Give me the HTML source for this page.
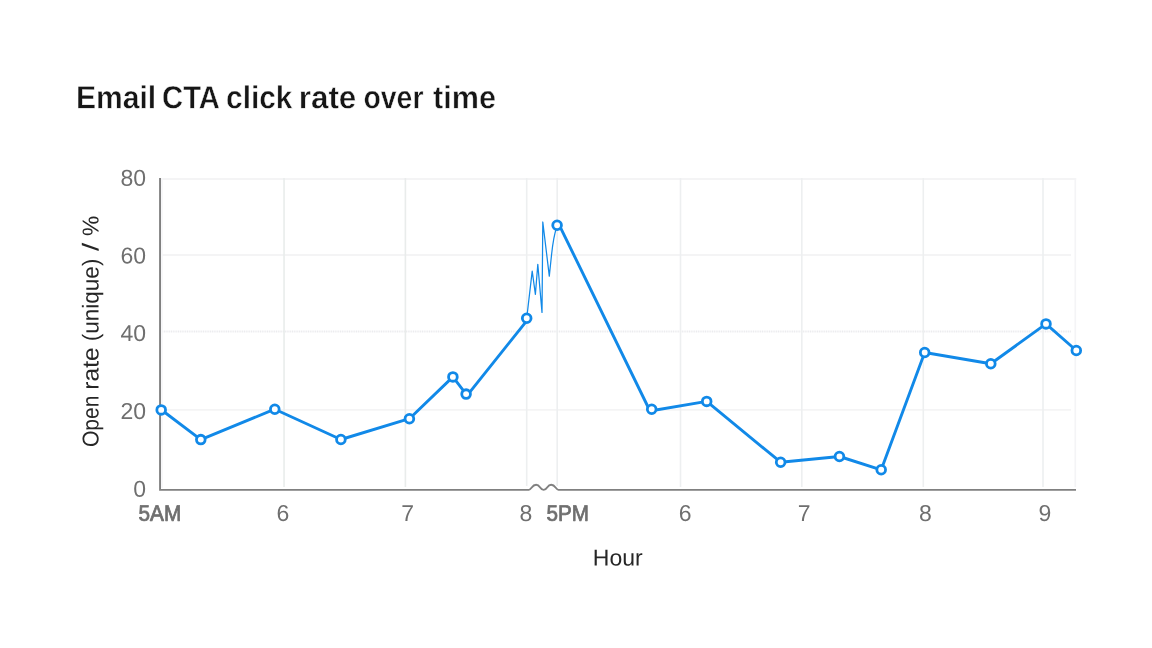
<!DOCTYPE html>
<html><head><meta charset="utf-8">
<style>
html,body{margin:0;padding:0;background:#fff;}
body{width:1152px;height:648px;overflow:hidden;font-family:"Liberation Sans",sans-serif;}
svg{display:block;position:absolute;left:0;top:0;will-change:transform;}
text{font-family:"Liberation Sans",sans-serif;}
.tick{font-size:23px;fill:#6f6f6f;}
.tickb{font-size:22.3px;fill:#6f6f6f;stroke:#6f6f6f;stroke-width:0.8;stroke-linejoin:round;}
.lab{font-size:23px;fill:#262626;}
.gv{stroke:#edeff0;stroke-width:1.6;fill:none;}
.gh{stroke:#f4f4f5;stroke-width:1.8;fill:none;}
.axis{stroke:#808080;stroke-width:1.9;fill:none;}
.mk{fill:#fff;stroke:#1189e8;stroke-width:2.8;}
</style></head>
<body>
<svg width="1152" height="648" viewBox="0 0 1152 648">
<rect width="1152" height="648" fill="#fff"/>
<g id="title">
<text transform="translate(75.88 108.2) rotate(0.03) scale(0.9431 1)" font-size="31.9" font-weight="bold" fill="#161616" stroke="#fff" stroke-width="0.45">Email</text>
<text transform="translate(162.10 108.2) rotate(0.03) scale(0.9150 1)" font-size="31.9" font-weight="bold" fill="#161616" stroke="#fff" stroke-width="0.45">CTA</text>
<text transform="translate(226.08 108.2) rotate(0.03) scale(0.9349 1)" font-size="31.9" font-weight="bold" fill="#161616" stroke="#fff" stroke-width="0.45">click</text>
<text transform="translate(298.73 108.2) rotate(0.03) scale(0.9838 1)" font-size="31.9" font-weight="bold" fill="#161616" stroke="#fff" stroke-width="0.45">rate</text>
<text transform="translate(363.48 108.2) rotate(0.03) scale(0.8899 1)" font-size="31.9" font-weight="bold" fill="#161616" stroke="#fff" stroke-width="0.45">over</text>
<text transform="translate(433.05 108.2) rotate(0.03) scale(0.9600 1)" font-size="31.9" font-weight="bold" fill="#161616" stroke="#fff" stroke-width="0.45">time</text>
</g>

<!-- grid -->
<g class="gh">
<path d="M161 179H1076.2"/>
<path d="M162 255H1071"/>
<path d="M162 331.5H1071" stroke="#ebebee" stroke-dasharray="1.1 0.68"/>
<path d="M162 409.9H1071"/>
</g>
<g class="gv">
<path d="M162 178V488" stroke="#f6f6f8"/>
<path d="M284.05 178V487" stroke="#e9eceb"/>
<path d="M405.4 178V487" stroke="#e9eceb"/>
<path d="M526.7 178V486"/>
<path d="M557.2 178V486"/>
<path d="M680.5 178V487"/>
<path d="M801.8 178V487"/>
<path d="M923.3 178V487"/>
<path d="M1043 178V487"/>
<path d="M1075.3 178V487" stroke="#f4f4f6"/>
</g>

<!-- axes -->
<path class="axis" id="xaxis" d="M160.05 178V489.85H528.9 C531.4 489.85 531.9 484.7 536.1 484.7 C540.4 484.7 539.5 489.9 543.65 489.9 C547.8 489.9 546.9 484.7 551.2 484.7 C555.4 484.7 555.9 489.85 558.4 489.85 H1076"/>

<!-- y ticks -->
<g class="tick" text-anchor="end">
<text id="y80" transform="translate(146 185.7) rotate(0.03)">80</text>
<text id="y60" transform="translate(146 263.6) rotate(0.03)">60</text>
<text id="y40" transform="translate(146 341) rotate(0.03)">40</text>
<text id="y20" transform="translate(146 418.9) rotate(0.03)">20</text>
<text id="y0" transform="translate(146 496.7) rotate(0.03)">0</text>
</g>

<!-- x ticks -->
<g class="tick" text-anchor="middle">
<text id="x6a" transform="translate(283 521) rotate(0.03)">6</text>
<text id="x7a" transform="translate(407.7 521) rotate(0.03)">7</text>
<text id="x8a" transform="translate(525.8 521) rotate(0.03)">8</text>
<text id="x6b" transform="translate(685.05 521) rotate(0.03)">6</text>
<text id="x7b" transform="translate(804.15 521) rotate(0.03)">7</text>
<text id="x8b" transform="translate(925.5 521) rotate(0.03)">8</text>
<text id="x9b" transform="translate(1045 521) rotate(0.03)">9</text>
</g>
<text id="x5am" class="tickb" transform="translate(138.6 520.7) rotate(0.03) scale(0.93 1)">5AM</text>
<text id="x5pm" class="tickb" transform="translate(546.6 520.7) rotate(0.03) scale(0.925 1)">5PM</text>

<!-- labels -->
<text id="xlab" class="lab" transform="translate(617.7 565.4) rotate(0.03)" text-anchor="middle">Hour</text>
<g id="ylab">
<text class="lab" transform="translate(98.5 447.10) rotate(-90.03) scale(0.9167 1)">Open</text>
<text class="lab" transform="translate(98.5 389.65) rotate(-90.03) scale(1.0690 1)">rate</text>
<text class="lab" transform="translate(98.5 341.35) rotate(-90.03) scale(0.9816 1)">(unique)</text>
<text class="lab" transform="translate(98.5 251.10) rotate(-90.03) scale(1.2729 1)">/</text>
<text class="lab" transform="translate(98.5 235.96) rotate(-90.03) scale(0.9881 1)">%</text>
</g>

<!-- thin zigzag -->
<path d="M526.7 318.3L532.2 271.1L535.4 294.3L537.8 264.3L542 312.4L542.8 222L549.3 276.1L551.6 254.3C552.5 246 553.6 236 556.5 228" fill="none" stroke="#1189e8" stroke-width="1.25" stroke-linejoin="round"/>

<!-- main lines -->
<g fill="none" stroke="#1189e8" stroke-width="2.9" stroke-linejoin="round" stroke-linecap="round">
<path d="M161.6 410L200.8 439.6L274.8 409.2L340.9 439.5L409.4 418.7L452.9 376.9L466.1 394.1"/>
<path d="M467.4 395.1L527.9 319.3"/>
<path d="M559.4 225.3L650 411L706.7 401.4L780.65 462.2L839.45 456.5L881.2 469.8L924.7 352.5L990.8 363.7L1046.0 323.9L1076.3 350.5"/>
</g>

<!-- markers -->
<g class="mk">
<circle cx="161.2" cy="409.9" r="4.35"/>
<circle cx="200.8" cy="439.6" r="4.35"/>
<circle cx="274.8" cy="409.2" r="4.35"/>
<circle cx="340.9" cy="439.5" r="4.35"/>
<circle cx="409.4" cy="418.7" r="4.35"/>
<circle cx="452.9" cy="376.9" r="4.35"/>
<circle cx="466.1" cy="394.1" r="4.35"/>
<circle cx="526.7" cy="318.3" r="4.35"/>
<circle cx="557.1" cy="225.3" r="4.35"/>
<circle cx="651.7" cy="409.2" r="4.35"/>
<circle cx="706.7" cy="401.4" r="4.35"/>
<circle cx="780.65" cy="462.2" r="4.35"/>
<circle cx="839.45" cy="456.5" r="4.35"/>
<circle cx="881.2" cy="469.8" r="4.35"/>
<circle cx="924.7" cy="352.5" r="4.35"/>
<circle cx="990.8" cy="363.7" r="4.35"/>
<circle cx="1046.0" cy="323.9" r="4.35"/>
<circle cx="1076.3" cy="350.5" r="4.35"/>
</g>
</svg>
</body></html>
